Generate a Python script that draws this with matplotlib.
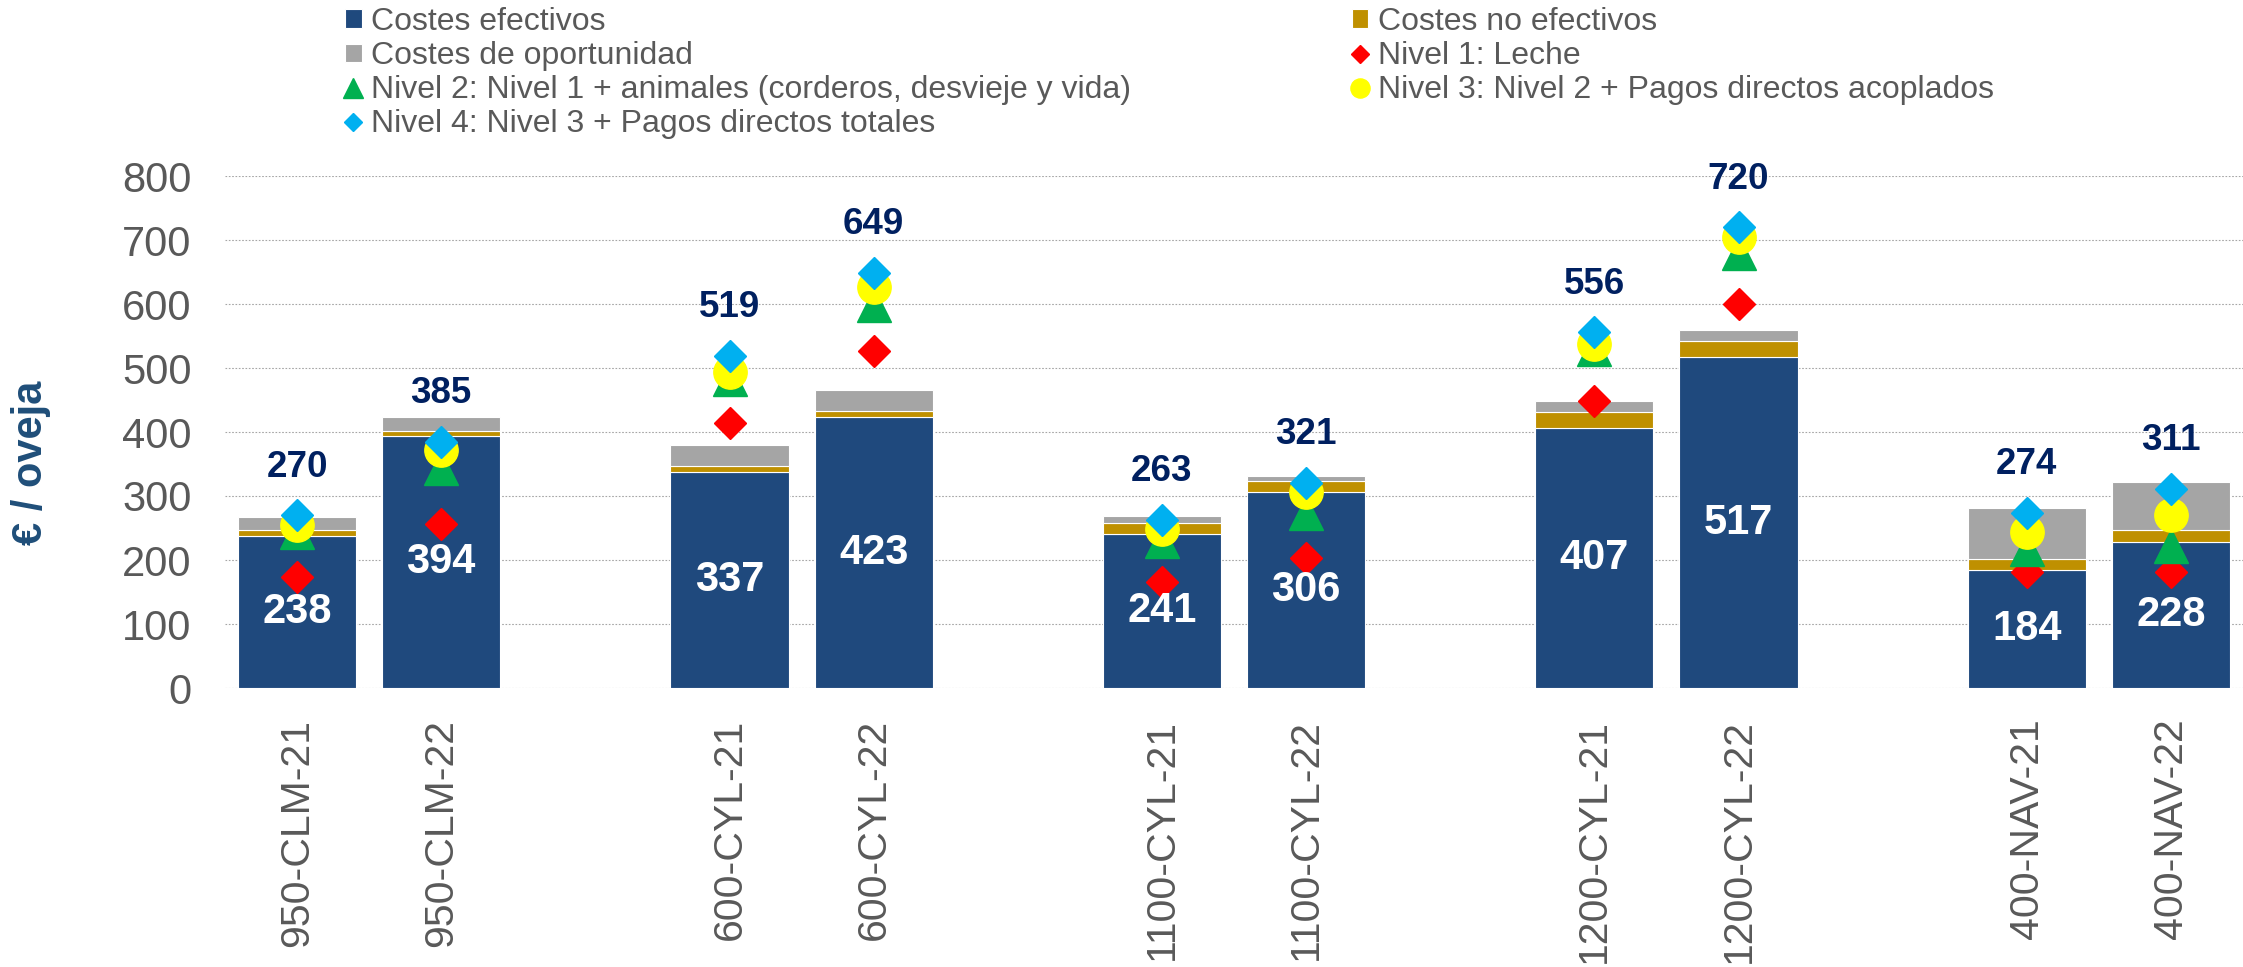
import numpy as np
import matplotlib.pyplot as plt

plt.rcParams['font.family'] = ['Liberation Sans', 'DejaVu Sans']

nan = np.nan
# empty categories are the gaps between farm groups (as in the original sheet)
categories = ['950-CLM-21', '950-CLM-22', '', '600-CYL-21', '600-CYL-22', '',
              '1100-CYL-21', '1100-CYL-22', '', '1200-CYL-21', '1200-CYL-22', '',
              '400-NAV-21', '400-NAV-22']
costes_efectivos = [238, 394, nan, 337, 423, nan, 241, 306, nan, 407, 517, nan, 184, 228]
costes_no_efectivos = [9, 8, nan, 10, 10, nan, 17, 17, nan, 25, 25, nan, 18, 19]
costes_oportunidad = [20, 22, nan, 32, 33, nan, 10, 9, nan, 17, 18, nan, 80, 75]
nivel1 = [173, 257, nan, 414, 526, nan, 166, 203, nan, 448, 600, nan, 181, 181]
nivel2 = [243, 344, nan, 483, 599, nan, 229, 274, nan, 530, 679, nan, 217, 222]
nivel3 = [255, 372, nan, 494, 626, nan, 249, 306, nan, 538, 705, nan, 243, 270]
nivel4 = [270, 385, nan, 519, 649, nan, 263, 321, nan, 556, 720, nan, 274, 311]

ef = np.array(costes_efectivos, dtype=float)
ne = np.array(costes_no_efectivos, dtype=float)
op = np.array(costes_oportunidad, dtype=float)
x = np.arange(len(categories))

fig = plt.figure(figsize=(22.43, 9.67), dpi=100)
ax = fig.add_axes([225 / 2243, 1 - 688 / 967, 2018 / 2243, 512 / 967])

w = 0.82
b1 = ax.bar(x, ef, w, color='#1F497D', edgecolor='white', linewidth=0.8, label='Costes efectivos', zorder=2)
b2 = ax.bar(x, ne, w, bottom=ef, color='#BF9000', edgecolor='white', linewidth=0.8,
            label='Costes no efectivos', zorder=2)
b3 = ax.bar(x, op, w, bottom=ef + ne, color='#A5A5A5', edgecolor='white', linewidth=0.8,
            label='Costes de oportunidad', zorder=2)

l1, = ax.plot(x, nivel1, ls='none', marker='D', ms=16.8, color='#FF0000', zorder=4,
              label='Nivel 1: Leche')
l2, = ax.plot(x, nivel2, ls='none', marker='^', ms=24, color='#00B050', zorder=5,
              label='Nivel 2: Nivel 1 + animales (corderos, desvieje y vida)')
l3, = ax.plot(x, nivel3, ls='none', marker='o', ms=24, color='#FFFF00', zorder=6,
              label='Nivel 3: Nivel 2 + Pagos directos acoplados')
l4, = ax.plot(x, nivel4, ls='none', marker='D', ms=16.8, color='#00B0F0', zorder=7,
              label='Nivel 4: Nivel 3 + Pagos directos totales')

for xi, v in zip(x, ef):
    if not np.isnan(v):
        ax.text(xi, v / 2, f'{v:.0f}', ha='center', va='center', color='white',
                fontsize=30, fontweight='bold', zorder=8)
for xi, v in zip(x, nivel4):
    if not np.isnan(v):
        ax.annotate(f'{v:.0f}', (xi, v), xytext=(0, 34.6), textcoords='offset points',
                    ha='center', va='center', color='#002060', fontsize=26.5,
                    fontweight='bold', zorder=8)

ax.set_xlim(-0.5, len(categories) - 0.5)
ax.set_ylim(0, 800)
ax.set_yticks(range(0, 801, 100))
ax.set_xticks(x)
ax.set_xticklabels(categories, rotation=90)
ax.tick_params(axis='y', length=0, pad=24, labelsize=30, labelcolor='#595959')
ax.tick_params(axis='x', length=0, pad=22, labelsize=29.5, labelcolor='#595959')
ax.yaxis.grid(True, color='#A6A6A6', linestyle=(0, (1.5, 1.5)), linewidth=0.8, zorder=0)
ax.set_axisbelow(True)
for s in ax.spines.values():
    s.set_visible(False)

fig.text(31 / 2243, 1 - 463 / 967, '€ / oveja', rotation=90, ha='center', va='center',
         fontsize=30, fontweight='bold', color='#1F4E79')

handles = [b1, b3, l2, l4, b2, l1, l3]
fig.legend(handles, [h.get_label() for h in handles], ncol=2, loc='upper left',
           bbox_to_anchor=(345 / 2243, 1 - 7 / 967), frameon=False, fontsize=23,
           labelcolor='#595959', handlelength=0.52, handleheight=0.52,
           handletextpad=0.3, labelspacing=0.13, columnspacing=6.9,
           borderpad=0, borderaxespad=0, markerscale=0.575)

fig.savefig('out.png', dpi=100)
